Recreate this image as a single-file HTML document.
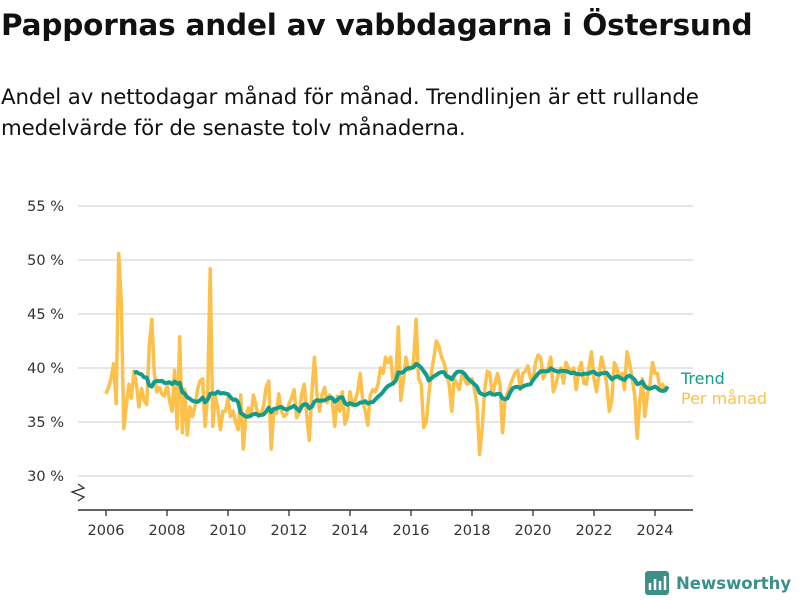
<!DOCTYPE html>
<html><head><meta charset="utf-8"><style>
body{margin:0;width:800px;height:600px;background:#fff;font-family:"DejaVu Sans","Liberation Sans",sans-serif;overflow:hidden;position:relative}
h1{position:absolute;left:1px;top:8px;margin:0;font-size:29.5px;font-weight:bold;color:#111;letter-spacing:-0.2px;white-space:nowrap}
p{position:absolute;left:1px;top:82px;margin:0;font-size:21.3px;line-height:31px;color:#111;white-space:nowrap;letter-spacing:-0.1px}
svg{position:absolute;left:0;top:0;font-family:"DejaVu Sans","Liberation Sans",sans-serif}
</style></head><body>
<h1>Pappornas andel av vabbdagarna i Östersund</h1>
<p>Andel av nettodagar månad för månad. Trendlinjen är ett rullande<br>medelvärde för de senaste tolv månaderna.</p>
<svg id="chart" width="800" height="600"></svg>
<script>
const startYear = 2006;
const monthly = [
37.6,38.2,39,40.4,36.7,50.6,46,34.4,36.5,38.5,37.2,39.7,
38.4,36.4,38.1,37,36.6,42,44.5,39.5,37.8,38.2,37.6,37.4,
38.5,37,36,39.8,34.4,42.9,34,38,33.8,36.4,35.5,36.5,
38,38.8,39,34.6,37.5,49.2,34.6,37.4,36.3,34.3,36,36,
37.2,35.5,36,35,34.3,37.5,32.5,35.4,36.3,35.5,37.5,36.5,
35.5,35.8,36.5,38.2,38.8,32.5,36,35.8,37.6,36,35.5,35.7,
36.7,37.2,38,35.4,35.8,37.6,38.5,35.5,33.3,37.8,41,37.5,
36,37.5,38.2,36.8,37.5,37,34.6,37.4,36,37.8,34.8,35.5,
37.8,36.5,37,37.8,39.5,37,36,34.7,37.5,38,37.8,38.5,
40,39.5,41,40.5,41,38.5,39,43.8,37,38.8,41,39.8,
40,40.5,44.5,39,38.5,34.5,35,37.5,39.5,41,42.5,42,
41,40.5,39.5,38.5,36,39,38.5,38,39.3,39,38.5,38.6,
39,38,36.5,32,34.5,38,39.7,39.5,37.5,38.5,39.5,38.5,
34,37,37.7,38.4,39,39.6,39.8,38,39.5,39.7,40.2,39,
38.8,40.5,41.2,41,39,39.6,40,41,37.8,38.5,39.5,40,
38.6,40.5,40,39.5,40,38,39.8,40.5,38.6,38.5,40,41.5,
39,37.8,39.5,41,40,38.5,36,37,40.5,40,39,39.5,
38,41.5,40.5,39,37.5,33.5,37,39,35.5,37.5,38.5,40.5,
39.5,39.5,38,38.5,38,38];
const yTicks = [30,35,40,45,50,55];
const xTicks = [2006,2008,2010,2012,2014,2016,2018,2020,2022,2024];

const NS='http://www.w3.org/2000/svg';
const svg=document.getElementById('chart');
const xS=t=>106+(t-2006)*30.5;
const yS=v=>476-(v-30)*10.8;
function mk(tag,attrs,parent){const e=document.createElementNS(NS,tag);for(const k in attrs)e.setAttribute(k,attrs[k]);(parent||svg).appendChild(e);return e;}

yTicks.forEach(v=>{
  const g=mk('line',{x1:78,x2:693,y1:yS(v),y2:yS(v),stroke:'#ddd','stroke-width':1.5});
  
  
  const t=mk('text',{x:64,y:yS(v)+5,'text-anchor':'end','font-size':14.5,fill:'#333'});
  t.textContent=v+' %';
  
  
});
const ax=mk('line',{x1:78,x2:693,y1:510,y2:510,stroke:'#333','stroke-width':1.5});


const brk=mk('path',{d:'M78,484 L84,488 L72,492 L84,497 L78,501',fill:'none',stroke:'#333','stroke-width':1.3});


xTicks.forEach(y=>{
  const l=mk('line',{x1:xS(y),x2:xS(y),y1:510,y2:516,stroke:'#333','stroke-width':1.3});
  
  
  const t=mk('text',{x:xS(y),y:535,'text-anchor':'middle','font-size':14.5,fill:'#333'});
  t.textContent=y;
  
  
});
const tm=i=>startYear+i/12;
let d=monthly.map((v,i)=>(i?'L':'M')+xS(tm(i)).toFixed(1)+','+yS(v).toFixed(1)).join(' ');
const ml=mk('path',{d:d,fill:'none',stroke:'#fcc04b','stroke-width':3.5,'stroke-linejoin':'round'});


let td='';
for(let i=11;i<monthly.length;i++){let s=0;for(let j=i-11;j<=i;j++)s+=monthly[j];td+=(i>11?'L':'M')+xS(tm(i)).toFixed(1)+','+yS(s/12).toFixed(1)+' ';}
const tl=mk('path',{d:td,fill:'none',stroke:'#139c8c','stroke-width':4,'stroke-linejoin':'round'});


const l1=mk('text',{x:681,y:384,'font-size':16,fill:'#139c8c'});l1.textContent='Trend';


const l2=mk('text',{x:681,y:404,'font-size':16,fill:'#fcc04b'});l2.textContent='Per månad';


const lg=mk('g',{});


mk('rect',{x:645,y:571,width:24,height:24,rx:3,fill:'#3d8f8a'},lg);
mk('path',{d:'M650,590 L650,583 M655,590 L655,579 M660,590 L660,581 M665,590 L665,576',stroke:'#fff','stroke-width':2.5},lg);
const lt=mk('text',{x:676,y:589,'font-size':16.5,'font-weight':'bold',fill:'#3d8f8a'},lg);lt.textContent='Newsworthy';
</script>
</body></html>
